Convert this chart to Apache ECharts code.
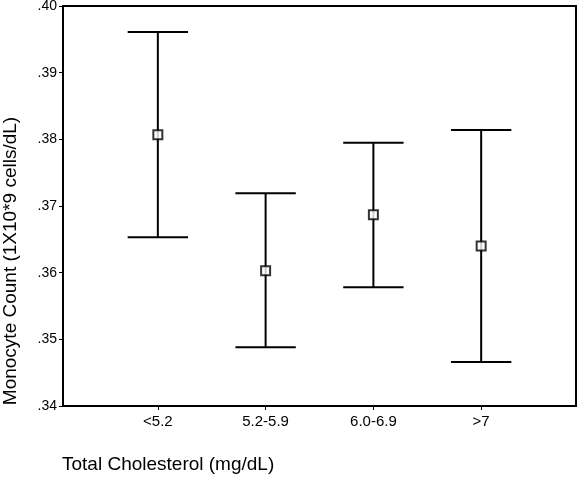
<!DOCTYPE html>
<html><head><meta charset="utf-8">
<script src="https://cdn.jsdelivr.net/npm/echarts@6/dist/echarts.min.js"></script>
<style>html,body{margin:0;padding:0;background:#fff}#c{width:578px;height:477px}</style>
</head><body><div id="c"></div>
<script>
var categories = ['<5.2', '5.2-5.9', '6.0-6.9', '>7'];
var means = [0.3807, 0.3603, 0.3687, 0.3640];
var upper = [0.3961, 0.3719, 0.3795, 0.3814];
var lower = [0.3653, 0.3488, 0.3578, 0.3466];
var yTicks = [0.34, 0.35, 0.36, 0.37, 0.38, 0.39, 0.40];

var positions = categories.map(function(c, i){ return i + 1; });
var errData = categories.map(function(c, i){ return [positions[i], lower[i], upper[i]]; });
var meanData = categories.map(function(c, i){ return [positions[i], means[i]]; });
var font = '"Liberation Sans", Arial, sans-serif';

var chart = echarts.init(document.getElementById('c'));
chart.setOption({
  animation: false,
  backgroundColor: '#fff',
  title: {
    text: 'Total Cholesterol (mg/dL)', left: 62, top: 455, padding: 0,
    textStyle: { fontFamily: font, fontSize: 19, fontWeight: 'normal', color: '#000' }
  },
  grid: { left: 63, right: 2, top: 6, bottom: 71, show: true, borderColor: '#000', borderWidth: 2,
          containLabel: false, outerBoundsMode: 'none' },
  xAxis: {
    type: 'value', min: 0.12, max: 4.88,
    splitLine: { show: false },
    axisLine: { show: true, lineStyle: { color: '#000', width: 2 } },
    axisTick: { show: true, length: 4, customValues: positions, lineStyle: { color: '#000', width: 1 } },
    axisLabel: {
      customValues: positions, margin: 8,
      fontFamily: font, fontSize: 15, color: '#000',
      formatter: function(v){ return categories[Math.round(v) - 1] || ''; }
    }
  },
  yAxis: {
    type: 'value', min: 0.34, max: 0.40, interval: 0.01,
    name: 'Monocyte Count (1X10*9 cells/dL)', nameLocation: 'middle', nameGap: 43,
    nameTextStyle: { fontFamily: font, fontSize: 19, color: '#000', padding: [0, 110, 0, 0] },
    splitLine: { show: false },
    axisLine: { show: true, lineStyle: { color: '#000', width: 2 } },
    axisTick: { show: true, length: 4, lineStyle: { color: '#000', width: 1 } },
    axisLabel: {
      margin: 6, fontFamily: font, fontSize: 14, color: '#000',
      formatter: function(v){ return v.toFixed(2).replace(/^0/, ''); }
    }
  },
  series: [
    {
      type: 'custom',
      data: errData,
      encode: { x: 0, y: [1, 2] },
      renderItem: function(params, api){
        var x = api.value(0);
        var lo = api.coord([x, api.value(1)]);
        var hi = api.coord([x, api.value(2)]);
        var half = api.size([0.28, 0])[0];
        var style = { stroke: '#000', lineWidth: 2, fill: null };
        return {
          type: 'group',
          children: [
            { type: 'line', shape: { x1: hi[0], y1: hi[1], x2: lo[0], y2: lo[1] }, style: style },
            { type: 'line', shape: { x1: hi[0] - half, y1: hi[1], x2: hi[0] + half, y2: hi[1] }, style: style },
            { type: 'line', shape: { x1: lo[0] - half, y1: lo[1], x2: lo[0] + half, y2: lo[1] }, style: style }
          ]
        };
      },
      z: 2
    },
    {
      type: 'scatter',
      data: meanData,
      symbol: 'rect',
      symbolSize: 9,
      itemStyle: { color: '#fff', borderColor: '#000', borderWidth: 2 },
      z: 3
    }
  ]
});
</script>
</body></html>
